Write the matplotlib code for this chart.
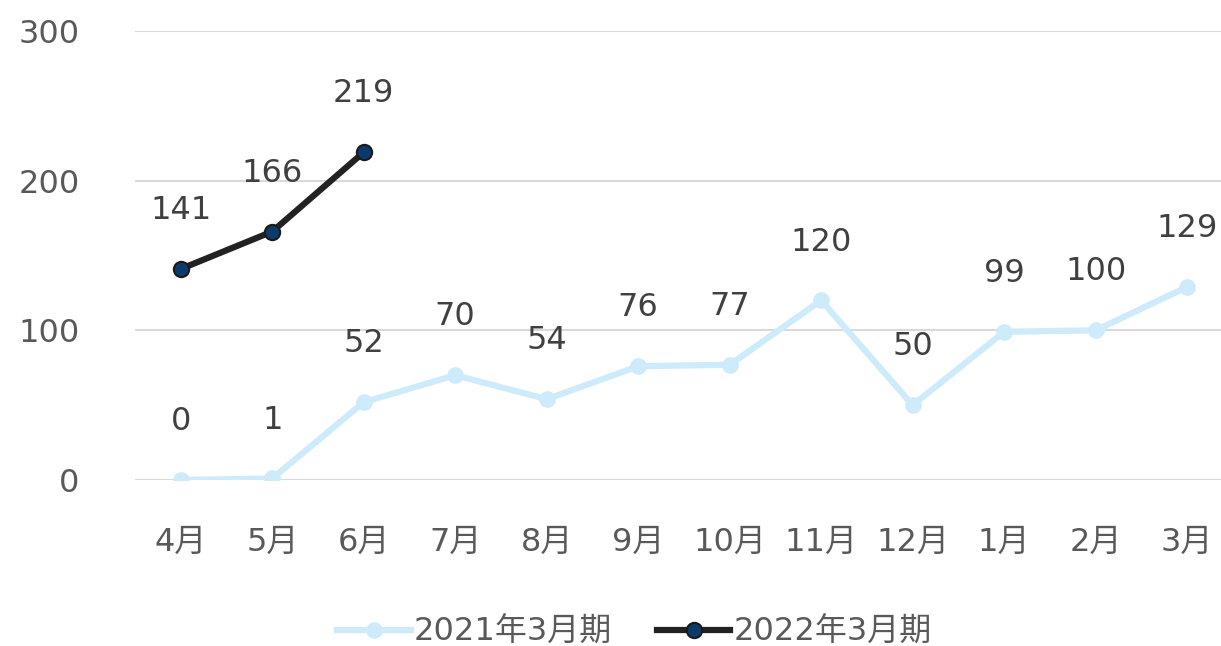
import matplotlib.pyplot as plt
import matplotlib as mpl

mpl.rcParams['font.family'] = ['DejaVu Sans', 'Noto Sans CJK JP']

months = ['4月', '5月', '6月', '7月', '8月', '9月', '10月', '11月', '12月', '1月', '2月', '3月']
fy2021 = [0, 1, 52, 70, 54, 76, 77, 120, 50, 99, 100, 129]
fy2022 = [141, 166, 219]

text_color = '#595959'

fig = plt.figure(figsize=(12.21, 6.46), dpi=100)
ax = fig.add_axes([0.1106, 0.257, 0.8894, 0.695])

x = list(range(len(months)))
ax.plot(x, fy2021, color='#CDEBFB', lw=4.5, marker='o', ms=11,
        mfc='#CDEBFB', mec='#CDEBFB', label='2021年3月期', zorder=3)
ax.plot(x[:len(fy2022)], fy2022, color='#222222', lw=4.5, marker='o', ms=11,
        mfc='#0B3A6B', mec='#1a1a1a', mew=1.5, label='2022年3月期', zorder=4)

for xi, v in zip(x, fy2021):
    ax.annotate(str(v), (xi, v), xytext=(0, 42), textcoords='offset points',
                ha='center', va='center', fontsize=23, color='#404040')
for xi, v in zip(x, fy2022):
    ax.annotate(str(v), (xi, v), xytext=(0, 42), textcoords='offset points',
                ha='center', va='center', fontsize=23, color='#404040')

ax.set_xlim(-0.5, 11.37)
ax.set_ylim(0, 300)
ax.set_yticks([0, 100, 200, 300])
ax.set_xticks(x)
ax.set_xticklabels(months)
ax.grid(axis='y', color='#D9D9D9', lw=1.5)
ax.set_axisbelow(True)
for s in ax.spines.values():
    s.set_visible(False)
ax.tick_params(length=0, labelsize=23, colors=text_color)
ax.tick_params(axis='x', pad=34)
ax.tick_params(axis='y', pad=40)

ax.legend(loc='center', bbox_to_anchor=(0.46, -0.34), ncol=2, frameon=False,
          fontsize=23, labelcolor=text_color, handlelength=2.3, columnspacing=1.4,
          handletextpad=0.1)

plt.savefig('out.png', dpi=100)
